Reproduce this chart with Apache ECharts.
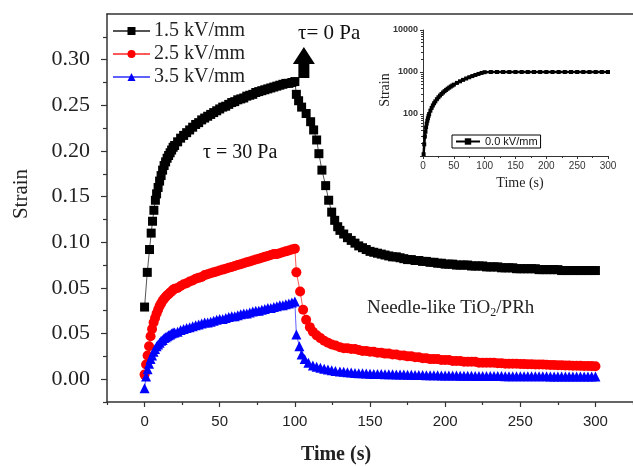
<!DOCTYPE html>
<html>
<head>
<meta charset="utf-8">
<script src="https://cdn.jsdelivr.net/npm/echarts@6/dist/echarts.min.js"></script>
<style>
html,body{margin:0;padding:0;background:#fff;}
#chart{width:633px;height:466px;}
</style>
</head>
<body>
<div id="chart"></div>
<script>
// ---------- data ----------
const xTickLabels = [0, 50, 100, 150, 200, 250, 300];
const yTickLabels = ['0.00', '0.05', '0.05', '0.10', '0.15', '0.20', '0.25', '0.30'];

const seriesNames = ['1.5 kV/mm', '2.5 kV/mm', '3.5 kV/mm'];
const insetName = '0.0 kV/mm';

// sample times
const riseT = [0, 1, 2, 3, 4, 5, 6, 7, 8, 9, 10, 11, 12, 13, 14, 15, 16, 17, 18, 19, 20,
  22, 24, 26, 28, 30, 32, 34, 36, 38, 40, 42, 44, 46, 48, 50, 52, 54, 56, 58, 60,
  62, 64, 66, 68, 70, 72, 74, 76, 78, 80, 82, 84, 86, 88, 90, 92, 94, 96, 98, 100];
const tailT = [130, 132.5, 135, 137.5, 140, 142.5, 145, 147.5, 150, 152.5, 155, 157.5, 160, 162.5, 165, 167.5, 170,
  172.5, 175, 177.5, 180, 182.5, 185, 187.5, 190, 192.5, 195, 197.5, 200, 202.5, 205, 207.5, 210, 212.5, 215, 217.5, 220,
  222.5, 225, 227.5, 230, 232.5, 235, 237.5, 240, 242.5, 245, 247.5, 250, 252.5, 255, 257.5, 260, 262.5, 265, 267.5, 270,
  272.5, 275, 277.5, 280, 282.5, 285, 287.5, 290, 292.5, 295, 297.5, 300];

// 1.5 kV/mm (black squares)
const blackRiseT = [0, 1.8, 3.3, 4.4, 5.3, 6.2, 7.2, 8, 9, 10, 11, 12, 13, 14, 15, 16, 17, 18, 19, 20,
  22, 24, 26, 28, 30, 32, 34, 36, 38, 40, 42, 44, 46, 48, 50, 52, 54, 56, 58, 60,
  62, 64, 66, 68, 70, 72, 74, 76, 78, 80, 82, 84, 86, 88, 90, 92, 94, 96, 98, 100];
const blackRiseV = [0.079, 0.117, 0.142, 0.160, 0.173, 0.185, 0.196, 0.203, 0.210, 0.217, 0.223, 0.229, 0.234, 0.238, 0.242, 0.245, 0.248, 0.251, 0.254, 0.256,
  0.260, 0.264, 0.267, 0.270, 0.273, 0.276, 0.279, 0.281, 0.284, 0.286, 0.288, 0.290, 0.292, 0.294, 0.296, 0.298, 0.299, 0.301, 0.303, 0.304,
  0.306, 0.307, 0.308, 0.310, 0.311, 0.312, 0.314, 0.315, 0.316, 0.317, 0.318, 0.319, 0.320, 0.321, 0.322, 0.323, 0.324, 0.324, 0.325, 0.326];
const blackDropT = [101, 102.5, 104.5, 107.5, 110.5, 112.5, 114.5, 116, 118, 120.5, 122.5, 124.5, 126.5, 128.5];
const blackDropV = [0.312, 0.305, 0.298, 0.291, 0.282, 0.273, 0.262, 0.247, 0.229, 0.212, 0.196, 0.183, 0.174, 0.167];
const blackTailV = [0.163, 0.159, 0.155, 0.152, 0.149, 0.146, 0.144, 0.142, 0.140, 0.139, 0.138, 0.137, 0.136, 0.135, 0.134, 0.134, 0.133,
  0.132, 0.131, 0.131, 0.130, 0.130, 0.129, 0.129, 0.128, 0.128, 0.127, 0.127, 0.126, 0.126, 0.126, 0.125, 0.125, 0.125, 0.125, 0.124, 0.124,
  0.124, 0.124, 0.123, 0.123, 0.123, 0.123, 0.122, 0.122, 0.122, 0.122, 0.121, 0.121, 0.121, 0.121, 0.121, 0.121, 0.120, 0.120, 0.120, 0.120,
  0.120, 0.120, 0.119, 0.119, 0.119, 0.119, 0.119, 0.119, 0.119, 0.119, 0.119, 0.119];

// 2.5 kV/mm (red circles)
const redRiseV = [0.005, 0.016, 0.026, 0.036, 0.047, 0.055, 0.062, 0.067, 0.072, 0.076, 0.080, 0.083, 0.086, 0.088, 0.090, 0.092, 0.093, 0.095, 0.096, 0.098, 0.099,
  0.100, 0.102, 0.104, 0.105, 0.107, 0.108, 0.110, 0.111, 0.112, 0.114, 0.115, 0.116, 0.117, 0.118, 0.119, 0.120, 0.121, 0.122, 0.123, 0.124,
  0.125, 0.126, 0.127, 0.128, 0.129, 0.130, 0.131, 0.132, 0.133, 0.134, 0.135, 0.136, 0.137, 0.137, 0.138, 0.139, 0.140, 0.141, 0.142, 0.143];
const redDropT = [101, 103.5, 105.5, 107.5, 110, 112, 114.5, 117, 119.5, 122, 124.5, 127];
const redDropV = [0.117, 0.096, 0.076, 0.065, 0.057, 0.052, 0.048, 0.045, 0.042, 0.040, 0.038, 0.037];
const redTailV = [0.035, 0.034, 0.034, 0.033, 0.033, 0.032, 0.031, 0.031, 0.030, 0.030, 0.029, 0.029, 0.028, 0.028, 0.027, 0.027, 0.026,
  0.026, 0.025, 0.025, 0.024, 0.024, 0.023, 0.023, 0.022, 0.022, 0.022, 0.021, 0.021, 0.021, 0.020, 0.020, 0.020, 0.019, 0.019, 0.019, 0.019,
  0.018, 0.018, 0.018, 0.018, 0.018, 0.0175, 0.0175, 0.017, 0.017, 0.017, 0.017, 0.0167, 0.0165, 0.0164, 0.0163, 0.0162, 0.016, 0.016, 0.0158, 0.0156,
  0.0155, 0.0153, 0.0152, 0.015, 0.0149, 0.0148, 0.0147, 0.0146, 0.0145, 0.0144, 0.0143, 0.0142];

// 3.5 kV/mm (blue triangles)
const blueRiseV = [-0.010, 0.003, 0.011, 0.017, 0.022, 0.026, 0.030, 0.033, 0.036, 0.038, 0.040, 0.042, 0.043, 0.045, 0.046, 0.047, 0.048, 0.049, 0.050, 0.051, 0.051,
  0.052, 0.054, 0.055, 0.056, 0.057, 0.058, 0.059, 0.060, 0.061, 0.062, 0.062, 0.063, 0.064, 0.065, 0.066, 0.066, 0.067, 0.068, 0.069, 0.069,
  0.070, 0.071, 0.072, 0.072, 0.073, 0.074, 0.075, 0.075, 0.076, 0.077, 0.078, 0.078, 0.079, 0.080, 0.081, 0.081, 0.082, 0.083, 0.084, 0.085];
const blueDropT = [101, 103, 104.5, 106.5, 109, 112, 114.5, 117, 119.5, 122, 124.5, 127];
const blueDropV = [0.049, 0.036, 0.027, 0.022, 0.018, 0.015, 0.0135, 0.0125, 0.0115, 0.0105, 0.0098, 0.009];
const blueTailV = [0.0085, 0.008, 0.0076, 0.0072, 0.0069, 0.0066, 0.0064, 0.0062, 0.006, 0.0058, 0.0057, 0.0056, 0.0055, 0.0054, 0.0053, 0.0052, 0.0051,
  0.005, 0.0049, 0.0048, 0.0047, 0.0046, 0.0045, 0.0044, 0.0043, 0.0042, 0.0042, 0.0041, 0.004, 0.004, 0.0039, 0.0039, 0.0038, 0.0038, 0.0037, 0.0037, 0.0036,
  0.0036, 0.0035, 0.0035, 0.0035, 0.0034, 0.0034, 0.0034, 0.0033, 0.0033, 0.0033, 0.0033, 0.0032, 0.0032, 0.0032, 0.0032, 0.0031, 0.0031, 0.0031, 0.0031, 0.003,
  0.003, 0.003, 0.003, 0.003, 0.003, 0.003, 0.003, 0.003, 0.003, 0.003, 0.003, 0.003];

// inset: 0.0 kV/mm (log scale)
const insetT = [1, 2, 3, 4, 5, 6, 7, 8, 9, 10, 12, 14, 16, 18, 20, 22.5, 25, 27.5, 30, 32.5, 35, 37.5, 40, 42.5, 45, 47.5, 50, 55, 60, 65, 70, 75, 80, 85, 90, 95, 100,
  110, 120, 130, 140, 150, 160, 170, 180, 190, 200, 210, 220, 230, 240, 250, 260, 270, 280, 290, 300];
const insetV = [11, 19, 29, 38, 48, 59, 69, 79, 90, 100, 120, 140, 160, 180, 200, 225, 250, 275, 300, 325, 350, 375, 400, 425, 450, 475, 500, 550, 600, 650, 700, 750, 800, 850, 900, 950, 990,
  1000, 1000, 1000, 1000, 1000, 1000, 1000, 1000, 1000, 1000, 1000, 1000, 1000, 1000, 1000, 1000, 1000, 1000, 1000, 1000];

// annotation anchor for the "τ = 0 Pa" arrow, in data coordinates
const arrowAt = [106, 0.3468];

// ---------- build ----------
const zip = (t, v) => t.map((x, i) => [x, v[i]]);
const blackData = zip(blackRiseT, blackRiseV).concat(zip(blackDropT, blackDropV), zip(tailT, blackTailV));
const redData = zip(riseT, redRiseV).concat(zip(redDropT, redDropV), zip(tailT, redTailV));
const blueData = zip(riseT, blueRiseV).concat(zip(blueDropT, blueDropV), zip(tailT, blueTailV));

const yTickValues = yTickLabels.map((_, i) => +(i * 0.05).toFixed(3));
const yMinorValues = [];
for (let i = 0; i <= 8; i++) yMinorValues.push(+(i * 0.05 - 0.025).toFixed(3));
const xMinorValues = [];
for (let i = -1; i <= 13; i += 2) xMinorValues.push(i * 25);

const SERIF = '"Liberation Serif", "Times New Roman", serif';
const SANS = '"Liberation Sans", Arial, sans-serif';
const AX = '#333';

const chart = echarts.init(document.getElementById('chart'), null, {renderer: 'canvas'});
const option = {
  animation: false,
  backgroundColor: '#fff',
  grid: [
    {left: 107, top: 14, width: 526, height: 388, containLabel: false, outerBoundsMode: 'none'},
    {left: 423, top: 30, width: 185, height: 126, containLabel: false, outerBoundsMode: 'none'}
  ],
  legend: [
    {
      left: 112, top: 21, orient: 'vertical', itemGap: 3, itemWidth: 37, itemHeight: 10,
      data: seriesNames,
      textStyle: {fontFamily: SERIF, fontSize: 20, color: '#222', padding: [0, 0, 0, -1]},
      padding: 0
    },
    {
      left: 452, top: 135, itemWidth: 24, itemHeight: 8, itemGap: 0,
      data: [insetName],
      borderColor: '#000', borderWidth: 1, borderRadius: 0, padding: [1, 3, 1, 3],
      textStyle: {fontFamily: SANS, fontSize: 11, color: '#111'}
    }
  ],
  xAxis: [
    {
      type: 'value', gridIndex: 0, position: 'bottom', min: -25, max: 325,
      axisLine: {show: true, onZero: false, lineStyle: {color: AX, width: 1.5}},
      axisTick: {show: true, customValues: xTickLabels, length: 5, lineStyle: {color: AX, width: 1.2}},
      axisLabel: {customValues: xTickLabels, margin: 12, fontFamily: SANS, fontSize: 15, color: '#222'},
      splitLine: {show: false}
    },
    {
      type: 'value', gridIndex: 0, position: 'top', min: -25, max: 325,
      axisLine: {show: true, onZero: false, lineStyle: {color: AX, width: 1.5}},
      axisTick: {show: false}, axisLabel: {show: false}, splitLine: {show: false}
    },
    {
      type: 'value', gridIndex: 0, position: 'bottom', min: -25, max: 325,
      axisLine: {show: false, onZero: false},
      axisTick: {show: true, customValues: xMinorValues, length: 3, lineStyle: {color: AX, width: 1.2}},
      axisLabel: {show: false, customValues: xMinorValues}, splitLine: {show: false}
    },
    {
      type: 'value', gridIndex: 1, min: 0, max: 300, interval: 50,
      axisLine: {show: true, onZero: false, lineStyle: {color: AX, width: 1}},
      axisTick: {show: true, length: 3, lineStyle: {color: AX}},
      minorTick: {show: true, splitNumber: 2, length: 2, lineStyle: {color: AX}},
      axisLabel: {margin: 5, fontFamily: SANS, fontSize: 10, color: '#333'},
      splitLine: {show: false}
    }
  ],
  yAxis: [
    {
      type: 'value', gridIndex: 0, min: -0.025, max: 0.4,
      axisLine: {show: true, onZero: false, lineStyle: {color: AX, width: 1.5}},
      axisTick: {show: true, customValues: yTickValues, length: 6, lineStyle: {color: AX, width: 1.2}},
      axisLabel: {
        customValues: yTickValues, margin: 17, fontFamily: SERIF, fontSize: 22, color: '#222',
        formatter: v => { const i = Math.round(v / 0.05); return (i >= 0 && i < yTickLabels.length) ? yTickLabels[i] : ''; }
      },
      splitLine: {show: false}
    },
    {
      type: 'value', gridIndex: 0, position: 'left', min: -0.025, max: 0.4,
      axisLine: {show: false, onZero: false},
      axisTick: {show: true, customValues: yMinorValues, length: 4, lineStyle: {color: AX, width: 1.2}},
      axisLabel: {show: false, customValues: yMinorValues}, splitLine: {show: false}
    },
    {
      type: 'log', logBase: 10, gridIndex: 1, min: 10, max: 10000,
      axisLine: {show: true, onZero: false, lineStyle: {color: AX, width: 1}},
      axisTick: {show: true, length: 3, lineStyle: {color: AX}},
      minorTick: {show: true, splitNumber: 9, length: 2, lineStyle: {color: AX}},
      axisLabel: {
        margin: 5, fontFamily: SANS, fontSize: 9, fontWeight: 'bold', color: '#333',
        formatter: v => (Math.abs(v - 10) < 1e-6 ? '' : String(Math.round(v)))
      },
      splitLine: {show: false}
    }
  ],
  series: [
    {
      name: seriesNames[0], type: 'line', xAxisIndex: 0, yAxisIndex: 0,
      data: blackData, symbol: 'rect', symbolSize: 9, showAllSymbol: true,
      lineStyle: {color: '#555', width: 1}, itemStyle: {color: '#000'}, z: 2,
      markPoint: {
        silent: true,
        data: [{
          coord: arrowAt,
          symbol: 'path://M11,0 L22,17 L16.5,17 L16.5,31 L5.5,31 L5.5,17 L0,17 Z',
          symbolSize: [22, 31], itemStyle: {color: '#000'}, label: {show: false}
        }]
      }
    },
    {
      name: seriesNames[1], type: 'line', xAxisIndex: 0, yAxisIndex: 0,
      data: redData, symbol: 'circle', symbolSize: 10, showAllSymbol: true,
      lineStyle: {color: '#ff5a5a', width: 1}, itemStyle: {color: '#ff0000'}, z: 3
    },
    {
      name: seriesNames[2], type: 'line', xAxisIndex: 0, yAxisIndex: 0,
      data: blueData, symbol: 'triangle', symbolSize: 10, showAllSymbol: true,
      lineStyle: {color: '#6060ff', width: 1}, itemStyle: {color: '#0000ff'}, z: 4
    },
    {
      name: insetName, type: 'line', xAxisIndex: 3, yAxisIndex: 2,
      data: zip(insetT, insetV), symbol: 'rect', symbolSize: 4, showAllSymbol: true,
      lineStyle: {color: '#000', width: 2.5}, itemStyle: {color: '#000'}, z: 5
    }
  ],
  graphic: [
    {type: 'text', x: 21, y: 194, rotation: Math.PI / 2,
      style: {text: 'Strain', font: '21px ' + SERIF, fill: '#222', align: 'center', verticalAlign: 'middle'}},
    {type: 'text', x: 336, y: 455,
      style: {text: 'Time (s)', font: 'bold 20px ' + SERIF, fill: '#222', align: 'center', verticalAlign: 'middle'}},
    {type: 'text', x: 203, y: 153,
      style: {text: 'τ = 30 Pa', font: '20px ' + SERIF, fill: '#111', align: 'left', verticalAlign: 'middle'}},
    {type: 'text', x: 298, y: 33,
      style: {text: 'τ= 0 Pa', font: '21px ' + SERIF, fill: '#111', align: 'left', verticalAlign: 'middle'}},
    {type: 'text', x: 367, y: 308,
      style: {
        text: 'Needle-like TiO{sub|2}/PRh', font: '19px ' + SERIF, fill: '#222', align: 'left', verticalAlign: 'middle',
        rich: {sub: {fontFamily: 'Liberation Serif', fontSize: 12, fill: '#222', verticalAlign: 'bottom', padding: [9, 0, 0, 0]}}
      }},
    {type: 'text', x: 385, y: 90, rotation: Math.PI / 2,
      style: {text: 'Strain', font: '14px ' + SERIF, fill: '#222', align: 'center', verticalAlign: 'middle'}},
    {type: 'text', x: 520, y: 183,
      style: {text: 'Time (s)', font: '14px ' + SERIF, fill: '#222', align: 'center', verticalAlign: 'middle'}}
  ]
};
chart.setOption(option);
</script>
</body>
</html>
